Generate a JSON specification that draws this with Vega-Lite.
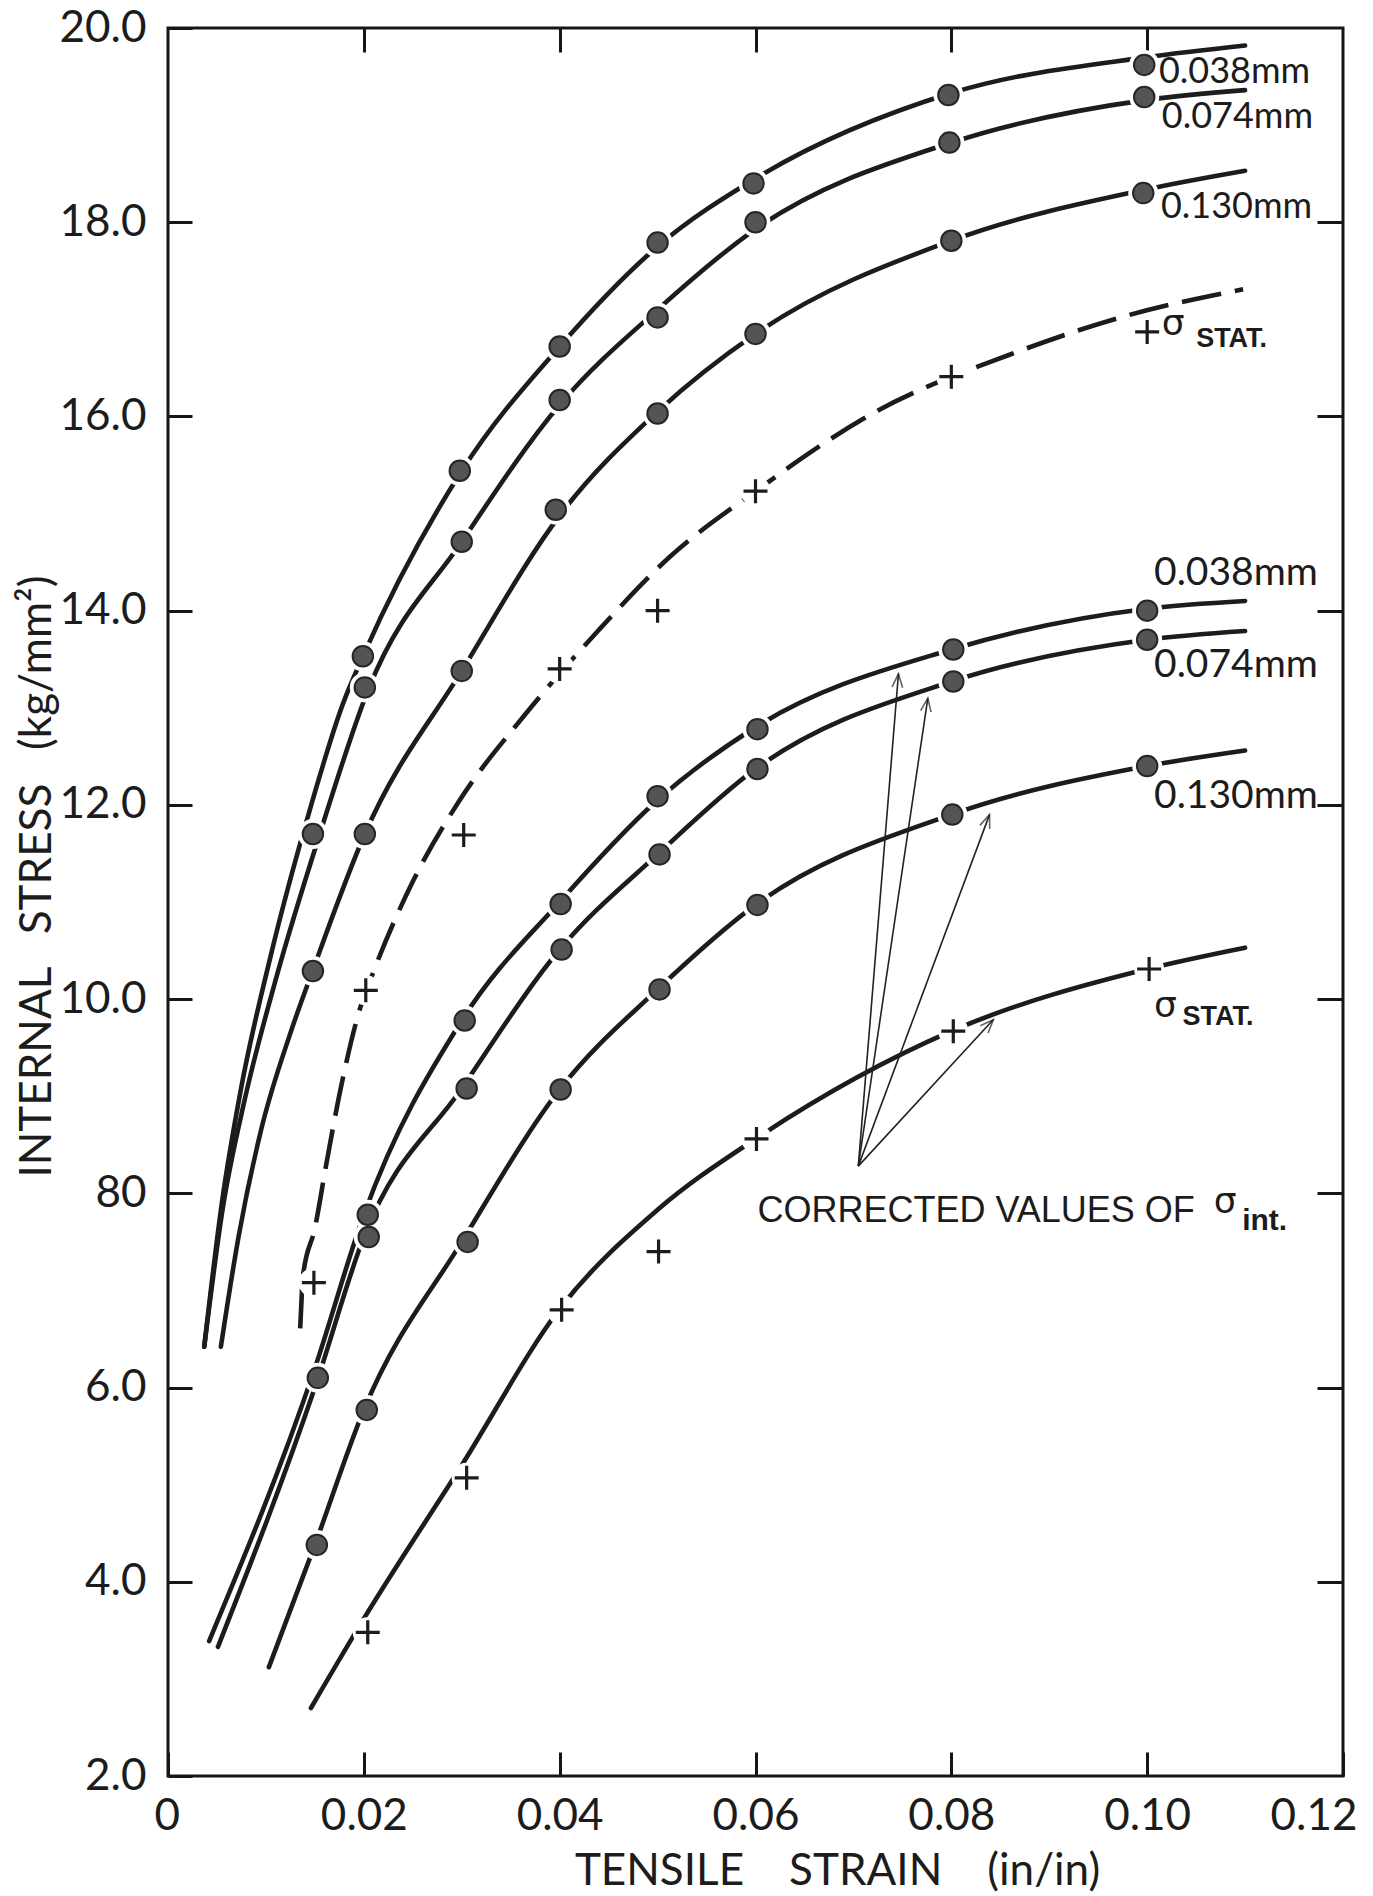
{
  "$schema": "https://vega.github.io/schema/vega-lite/v6.json",
  "width": 1175,
  "height": 1748,
  "autosize": {"type": "none"},
  "padding": {"left": 168, "top": 28, "right": 30, "bottom": 120},
  "background": "white",
  "config": {"view": {"stroke": "#161616", "strokeWidth": 3}, "font": "Lato"},
  "datasets": {
    "curves": [
      {"s": "u038", "x": 0.0037, "y": 6.42}, {"s": "u038", "x": 0.0055, "y": 7.9}, {"s": "u038", "x": 0.0075, "y": 9.1}, {"s": "u038", "x": 0.0105, "y": 10.45}, {"s": "u038", "x": 0.0142, "y": 11.85}, {"s": "u038", "x": 0.0179, "y": 13.05}, {"s": "u038", "x": 0.02, "y": 13.55}, {"s": "u038", "x": 0.03, "y": 15.44}, {"s": "u038", "x": 0.04, "y": 16.72}, {"s": "u038", "x": 0.05, "y": 17.75}, {"s": "u038", "x": 0.06, "y": 18.45}, {"s": "u038", "x": 0.08, "y": 19.33}, {"s": "u038", "x": 0.1, "y": 19.7}, {"s": "u038", "x": 0.11, "y": 19.82},
      {"s": "u074", "x": 0.0037, "y": 6.42}, {"s": "u074", "x": 0.0056, "y": 7.85}, {"s": "u074", "x": 0.0078, "y": 8.95}, {"s": "u074", "x": 0.011, "y": 10.2}, {"s": "u074", "x": 0.0155, "y": 11.7}, {"s": "u074", "x": 0.0205, "y": 13.2}, {"s": "u074", "x": 0.03, "y": 14.71}, {"s": "u074", "x": 0.04, "y": 16.12}, {"s": "u074", "x": 0.05, "y": 17.1}, {"s": "u074", "x": 0.06, "y": 17.93}, {"s": "u074", "x": 0.08, "y": 18.82}, {"s": "u074", "x": 0.1, "y": 19.26}, {"s": "u074", "x": 0.11, "y": 19.36},
      {"s": "u130", "x": 0.0054, "y": 6.42}, {"s": "u130", "x": 0.0072, "y": 7.55}, {"s": "u130", "x": 0.0095, "y": 8.65}, {"s": "u130", "x": 0.0125, "y": 9.65}, {"s": "u130", "x": 0.0148, "y": 10.3}, {"s": "u130", "x": 0.0201, "y": 11.7}, {"s": "u130", "x": 0.03, "y": 13.38}, {"s": "u130", "x": 0.04, "y": 14.98}, {"s": "u130", "x": 0.05, "y": 16.05}, {"s": "u130", "x": 0.06, "y": 16.85}, {"s": "u130", "x": 0.08, "y": 17.81}, {"s": "u130", "x": 0.1, "y": 18.34}, {"s": "u130", "x": 0.11, "y": 18.53},
      {"s": "usig", "x": 0.0135, "y": 6.61}, {"s": "usig", "x": 0.0138, "y": 7.16}, {"s": "usig", "x": 0.015, "y": 7.64}, {"s": "usig", "x": 0.0162, "y": 8.32}, {"s": "usig", "x": 0.0177, "y": 9.11}, {"s": "usig", "x": 0.0196, "y": 9.9}, {"s": "usig", "x": 0.0209, "y": 10.26}, {"s": "usig", "x": 0.025, "y": 11.21}, {"s": "usig", "x": 0.0298, "y": 12.05}, {"s": "usig", "x": 0.0363, "y": 12.91}, {"s": "usig", "x": 0.0439, "y": 13.79}, {"s": "usig", "x": 0.0512, "y": 14.55}, {"s": "usig", "x": 0.06, "y": 15.23}, {"s": "usig", "x": 0.0723, "y": 16.05}, {"s": "usig", "x": 0.0858, "y": 16.63}, {"s": "usig", "x": 0.098, "y": 17.04}, {"s": "usig", "x": 0.1098, "y": 17.31},
      {"s": "l038", "x": 0.0042, "y": 3.39}, {"s": "l038", "x": 0.015, "y": 6.2}, {"s": "l038", "x": 0.02, "y": 7.78}, {"s": "l038", "x": 0.03, "y": 9.78}, {"s": "l038", "x": 0.04, "y": 11.0}, {"s": "l038", "x": 0.05, "y": 12.05}, {"s": "l038", "x": 0.06, "y": 12.8}, {"s": "l038", "x": 0.08, "y": 13.6}, {"s": "l038", "x": 0.1, "y": 14.02}, {"s": "l038", "x": 0.11, "y": 14.1},
      {"s": "l074", "x": 0.0051, "y": 3.33}, {"s": "l074", "x": 0.015, "y": 6.0}, {"s": "l074", "x": 0.02, "y": 7.55}, {"s": "l074", "x": 0.03, "y": 9.08}, {"s": "l074", "x": 0.04, "y": 10.51}, {"s": "l074", "x": 0.05, "y": 11.49}, {"s": "l074", "x": 0.06, "y": 12.37}, {"s": "l074", "x": 0.08, "y": 13.27}, {"s": "l074", "x": 0.1, "y": 13.7}, {"s": "l074", "x": 0.11, "y": 13.79},
      {"s": "l130", "x": 0.0103, "y": 3.12}, {"s": "l130", "x": 0.015, "y": 4.38}, {"s": "l130", "x": 0.02, "y": 5.77}, {"s": "l130", "x": 0.03, "y": 7.5}, {"s": "l130", "x": 0.04, "y": 9.07}, {"s": "l130", "x": 0.05, "y": 10.1}, {"s": "l130", "x": 0.06, "y": 10.97}, {"s": "l130", "x": 0.08, "y": 11.9}, {"s": "l130", "x": 0.1, "y": 12.4}, {"s": "l130", "x": 0.11, "y": 12.56},
      {"s": "lsig", "x": 0.0146, "y": 2.7}, {"s": "lsig", "x": 0.02, "y": 3.62}, {"s": "lsig", "x": 0.03, "y": 5.2}, {"s": "lsig", "x": 0.04, "y": 6.81}, {"s": "lsig", "x": 0.05, "y": 7.83}, {"s": "lsig", "x": 0.06, "y": 8.56}, {"s": "lsig", "x": 0.08, "y": 9.67}, {"s": "lsig", "x": 0.1, "y": 10.31}, {"s": "lsig", "x": 0.11, "y": 10.53}
    ],
    "points": [
      {"s": "u038", "k": "c", "x": 0.0148, "y": 11.7}, {"s": "u038", "k": "c", "x": 0.0199, "y": 13.53}, {"s": "u038", "k": "c", "x": 0.0298, "y": 15.44}, {"s": "u038", "k": "c", "x": 0.04, "y": 16.72}, {"s": "u038", "k": "c", "x": 0.05, "y": 17.79}, {"s": "u038", "k": "c", "x": 0.0598, "y": 18.4}, {"s": "u038", "k": "c", "x": 0.0797, "y": 19.31}, {"s": "u038", "k": "c", "x": 0.0997, "y": 19.62},
      {"s": "u074", "k": "c", "x": 0.0201, "y": 13.21}, {"s": "u074", "k": "c", "x": 0.03, "y": 14.71}, {"s": "u074", "k": "c", "x": 0.04, "y": 16.17}, {"s": "u074", "k": "c", "x": 0.05, "y": 17.02}, {"s": "u074", "k": "c", "x": 0.06, "y": 18.0}, {"s": "u074", "k": "c", "x": 0.0798, "y": 18.82}, {"s": "u074", "k": "c", "x": 0.0997, "y": 19.29},
      {"s": "u130", "k": "c", "x": 0.0148, "y": 10.29}, {"s": "u130", "k": "c", "x": 0.0201, "y": 11.7}, {"s": "u130", "k": "c", "x": 0.03, "y": 13.38}, {"s": "u130", "k": "c", "x": 0.0396, "y": 15.04}, {"s": "u130", "k": "c", "x": 0.05, "y": 16.03}, {"s": "u130", "k": "c", "x": 0.06, "y": 16.85}, {"s": "u130", "k": "c", "x": 0.08, "y": 17.81}, {"s": "u130", "k": "c", "x": 0.0996, "y": 18.3},
      {"s": "usig", "k": "p", "x": 0.0149, "y": 7.08}, {"s": "usig", "k": "p", "x": 0.0202, "y": 10.09}, {"s": "usig", "k": "p", "x": 0.0302, "y": 11.69}, {"s": "usig", "k": "p", "x": 0.04, "y": 13.4}, {"s": "usig", "k": "p", "x": 0.05, "y": 14.0}, {"s": "usig", "k": "p", "x": 0.06, "y": 15.23}, {"s": "usig", "k": "p", "x": 0.08, "y": 16.41}, {"s": "usig", "k": "p", "x": 0.1, "y": 16.87},
      {"s": "l038", "k": "c", "x": 0.0153, "y": 6.1}, {"s": "l038", "k": "c", "x": 0.0204, "y": 7.78}, {"s": "l038", "k": "c", "x": 0.0303, "y": 9.78}, {"s": "l038", "k": "c", "x": 0.0401, "y": 10.98}, {"s": "l038", "k": "c", "x": 0.05, "y": 12.09}, {"s": "l038", "k": "c", "x": 0.0602, "y": 12.78}, {"s": "l038", "k": "c", "x": 0.0802, "y": 13.6}, {"s": "l038", "k": "c", "x": 0.1, "y": 14.0},
      {"s": "l074", "k": "c", "x": 0.0205, "y": 7.55}, {"s": "l074", "k": "c", "x": 0.0305, "y": 9.08}, {"s": "l074", "k": "c", "x": 0.0402, "y": 10.51}, {"s": "l074", "k": "c", "x": 0.0502, "y": 11.49}, {"s": "l074", "k": "c", "x": 0.0602, "y": 12.37}, {"s": "l074", "k": "c", "x": 0.0802, "y": 13.27}, {"s": "l074", "k": "c", "x": 0.1, "y": 13.7},
      {"s": "l130", "k": "c", "x": 0.0152, "y": 4.38}, {"s": "l130", "k": "c", "x": 0.0203, "y": 5.77}, {"s": "l130", "k": "c", "x": 0.0306, "y": 7.5}, {"s": "l130", "k": "c", "x": 0.0401, "y": 9.07}, {"s": "l130", "k": "c", "x": 0.0502, "y": 10.1}, {"s": "l130", "k": "c", "x": 0.0602, "y": 10.97}, {"s": "l130", "k": "c", "x": 0.0801, "y": 11.9}, {"s": "l130", "k": "c", "x": 0.1, "y": 12.4},
      {"s": "lsig", "k": "p", "x": 0.0204, "y": 3.48}, {"s": "lsig", "k": "p", "x": 0.0305, "y": 5.07}, {"s": "lsig", "k": "p", "x": 0.0402, "y": 6.8}, {"s": "lsig", "k": "p", "x": 0.0501, "y": 7.4}, {"s": "lsig", "k": "p", "x": 0.0601, "y": 8.56}, {"s": "lsig", "k": "p", "x": 0.0802, "y": 9.67}, {"s": "lsig", "k": "p", "x": 0.1002, "y": 10.31}
    ],
    "arrows": [
      {"id": 1, "x": 0.0705, "y": 8.28, "x2": 0.0746, "y2": 13.35},
      {"id": 2, "x": 0.0705, "y": 8.28, "x2": 0.0776, "y2": 13.1},
      {"id": 3, "x": 0.0705, "y": 8.28, "x2": 0.0839, "y2": 11.9},
      {"id": 4, "x": 0.0705, "y": 8.28, "x2": 0.0843, "y2": 9.79}
    ],
    "labels": [
      {"g": "up", "t": "0.038mm", "x": 0.1012, "y": 19.434},
      {"g": "up", "t": "0.074mm", "x": 0.1015, "y": 18.97},
      {"g": "up", "t": "0.130mm", "x": 0.1014, "y": 18.043},
      {"g": "lo", "t": "0.038mm", "x": 0.1007, "y": 14.264},
      {"g": "lo", "t": "0.074mm", "x": 0.1007, "y": 13.316},
      {"g": "lo", "t": "0.130mm", "x": 0.1007, "y": 11.967},
      {"g": "sig", "t": "σ", "x": 0.1015, "y": 16.84},
      {"g": "sig", "t": "σ", "x": 0.1007, "y": 9.815},
      {"g": "sig", "t": "σ", "x": 0.1068, "y": 7.8},
      {"g": "stat", "t": "STAT.", "x": 0.105, "y": 16.71},
      {"g": "stat", "t": "STAT.", "x": 0.1036, "y": 9.732},
      {"g": "corr", "t": "CORRECTED VALUES OF", "x": 0.0602, "y": 7.703},
      {"g": "int", "t": "int.", "x": 0.1097, "y": 7.625}
    ]
  },
  "resolve": {"axis": {"x": "independent", "y": "independent"}},
  "layer": [
    {
      "data": {"name": "curves"},
      "transform": [{"filter": "datum.s != 'usig'"}],
      "mark": {"type": "line", "interpolate": "monotone", "strokeWidth": 4.6, "color": "#1c1c1c", "strokeCap": "round"},
      "encoding": {
        "x": {"field": "x", "type": "quantitative", "scale": {"domain": [0, 0.12], "nice": false, "zero": false},
          "axis": {"orient": "bottom", "values": [0, 0.02, 0.04, 0.06, 0.08, 0.1, 0.12], "labelExpr": "datum.value == 0 ? '0' : format(datum.value, '.2f')", "grid": false, "domain": false, "tickSize": -24, "tickWidth": 3, "tickColor": "#161616", "labelPadding": 42, "labelFont": "Lato", "labelFontSize": 44, "labelColor": "#1c1c1c", "labelFlush": true, "labelFlushOffset": 14, "labelOverlap": false, "labelBound": false,
            "title": "TENSILE\u00a0\u00a0\u00a0\u00a0STRAIN\u00a0\u00a0\u00a0\u00a0(in/in)", "titleFont": "Lato", "titleFontSize": 44, "titleFontWeight": "normal", "titleColor": "#1c1c1c", "titleX": 669, "titleY": 108, "titleAlign": "center", "titleBaseline": "alphabetic"}},
        "y": {"field": "y", "type": "quantitative", "scale": {"domain": [2, 20], "nice": false, "zero": false},
          "axis": {"orient": "left", "values": [2, 4, 6, 8, 10, 12, 14, 16, 18, 20], "labelExpr": "datum.value == 8 ? '80' : format(datum.value, '.1f')", "grid": false, "domain": false, "tickSize": -24, "tickWidth": 3, "tickColor": "#161616", "labelPadding": 46, "labelFont": "Lato", "labelFontSize": 44, "labelColor": "#1c1c1c", "labelFlush": false, "labelOverlap": false, "labelBound": false, "labelBaseline": "middle",
            "title": "INTERNAL\u00a0\u00a0\u00a0STRESS\u00a0\u00a0\u00a0(kg/mm²)", "titleFont": "Lato", "titleFontSize": 44, "titleFontWeight": "normal", "titleColor": "#1c1c1c", "titleAngle": 270, "titleX": -118, "titleY": 848, "titleAlign": "center", "titleBaseline": "alphabetic"}},
        "detail": {"field": "s"}
      }
    },
    {
      "data": {"name": "curves"},
      "transform": [{"filter": "datum.s == 'usig'"}],
      "mark": {"type": "line", "interpolate": "monotone", "strokeWidth": 4.6, "color": "#1c1c1c", "strokeDash": [40, 14]},
      "encoding": {
        "x": {"field": "x", "type": "quantitative", "axis": {"orient": "top", "values": [0.02, 0.04, 0.06, 0.08, 0.1], "labels": false, "title": null, "grid": false, "domain": false, "tickSize": -24, "tickWidth": 3, "tickColor": "#161616"}},
        "y": {"field": "y", "type": "quantitative", "axis": {"orient": "right", "values": [4, 6, 8, 10, 12, 14, 16, 18], "labels": false, "title": null, "grid": false, "domain": false, "tickSize": -26, "tickWidth": 3, "tickColor": "#161616"}}
      }
    },
    {
      "data": {"name": "arrows"},
      "mark": {"type": "rule", "strokeWidth": 1.6, "color": "#222"},
      "encoding": {
        "x": {"field": "x", "type": "quantitative", "axis": null},
        "y": {"field": "y", "type": "quantitative", "axis": null},
        "x2": {"field": "x2"},
        "y2": {"field": "y2"}
      }
    },
    {
      "data": {"name": "arrows"},
      "transform": [{"filter": "datum.id == 1"}],
      "mark": {"type": "point", "shape": "M -0.35 0.9 L 0 0 L 0.35 0.9", "filled": false, "size": 900, "strokeWidth": 1.6, "color": "#222", "angle": 4.7},
      "encoding": {"x": {"field": "x2", "type": "quantitative", "axis": null}, "y": {"field": "y2", "type": "quantitative", "axis": null}}
    },
    {
      "data": {"name": "arrows"},
      "transform": [{"filter": "datum.id == 2"}],
      "mark": {"type": "point", "shape": "M -0.35 0.9 L 0 0 L 0.35 0.9", "filled": false, "size": 900, "strokeWidth": 1.6, "color": "#222", "angle": 8.4},
      "encoding": {"x": {"field": "x2", "type": "quantitative", "axis": null}, "y": {"field": "y2", "type": "quantitative", "axis": null}}
    },
    {
      "data": {"name": "arrows"},
      "transform": [{"filter": "datum.id == 3"}],
      "mark": {"type": "point", "shape": "M -0.35 0.9 L 0 0 L 0.35 0.9", "filled": false, "size": 900, "strokeWidth": 1.6, "color": "#222", "angle": 20.5},
      "encoding": {"x": {"field": "x2", "type": "quantitative", "axis": null}, "y": {"field": "y2", "type": "quantitative", "axis": null}}
    },
    {
      "data": {"name": "arrows"},
      "transform": [{"filter": "datum.id == 4"}],
      "mark": {"type": "point", "shape": "M -0.35 0.9 L 0 0 L 0.35 0.9", "filled": false, "size": 900, "strokeWidth": 1.6, "color": "#222", "angle": 42.8},
      "encoding": {"x": {"field": "x2", "type": "quantitative", "axis": null}, "y": {"field": "y2", "type": "quantitative", "axis": null}}
    },
    {
      "data": {"name": "points"},
      "mark": {"type": "point", "shape": "circle", "filled": true, "color": "white", "opacity": 1, "size": 900},
      "encoding": {"x": {"field": "x", "type": "quantitative", "axis": null}, "y": {"field": "y", "type": "quantitative", "axis": null}}
    },
    {
      "data": {"name": "points"},
      "transform": [{"filter": "datum.k == 'c'"}],
      "mark": {"type": "point", "shape": "circle", "filled": true, "fill": "#545454", "stroke": "#262626", "strokeWidth": 2, "opacity": 1, "size": 420},
      "encoding": {"x": {"field": "x", "type": "quantitative", "axis": null}, "y": {"field": "y", "type": "quantitative", "axis": null}}
    },
    {
      "data": {"name": "points"},
      "transform": [{"filter": "datum.k == 'p'"}],
      "mark": {"type": "point", "shape": "M -1 0 L 1 0 M 0 -1 L 0 1", "filled": false, "stroke": "#1c1c1c", "strokeWidth": 3.2, "opacity": 1, "size": 576},
      "encoding": {"x": {"field": "x", "type": "quantitative", "axis": null}, "y": {"field": "y", "type": "quantitative", "axis": null}}
    },
    {
      "data": {"name": "labels"},
      "transform": [{"filter": "datum.g == 'up'"}],
      "mark": {"type": "text", "align": "left", "baseline": "alphabetic", "font": "Lato", "fontSize": 36, "color": "#1c1c1c"},
      "encoding": {"x": {"field": "x", "type": "quantitative", "axis": null}, "y": {"field": "y", "type": "quantitative", "axis": null}, "text": {"field": "t"}}
    },
    {
      "data": {"name": "labels"},
      "transform": [{"filter": "datum.g == 'lo'"}],
      "mark": {"type": "text", "align": "left", "baseline": "alphabetic", "font": "Lato", "fontSize": 39, "color": "#1c1c1c"},
      "encoding": {"x": {"field": "x", "type": "quantitative", "axis": null}, "y": {"field": "y", "type": "quantitative", "axis": null}, "text": {"field": "t"}}
    },
    {
      "data": {"name": "labels"},
      "transform": [{"filter": "datum.g == 'sig'"}],
      "mark": {"type": "text", "align": "left", "baseline": "alphabetic", "font": "DejaVu Sans", "fontSize": 36, "color": "#1c1c1c"},
      "encoding": {"x": {"field": "x", "type": "quantitative", "axis": null}, "y": {"field": "y", "type": "quantitative", "axis": null}, "text": {"field": "t"}}
    },
    {
      "data": {"name": "labels"},
      "transform": [{"filter": "datum.g == 'stat'"}],
      "mark": {"type": "text", "align": "left", "baseline": "alphabetic", "font": "Liberation Sans", "fontWeight": "bold", "fontSize": 27, "color": "#1c1c1c"},
      "encoding": {"x": {"field": "x", "type": "quantitative", "axis": null}, "y": {"field": "y", "type": "quantitative", "axis": null}, "text": {"field": "t"}}
    },
    {
      "data": {"name": "labels"},
      "transform": [{"filter": "datum.g == 'corr'"}],
      "mark": {"type": "text", "align": "left", "baseline": "alphabetic", "font": "Liberation Sans", "fontSize": 36, "color": "#1c1c1c"},
      "encoding": {"x": {"field": "x", "type": "quantitative", "axis": null}, "y": {"field": "y", "type": "quantitative", "axis": null}, "text": {"field": "t"}}
    },
    {
      "data": {"name": "labels"},
      "transform": [{"filter": "datum.g == 'int'"}],
      "mark": {"type": "text", "align": "left", "baseline": "alphabetic", "font": "Liberation Sans", "fontWeight": "bold", "fontSize": 30, "color": "#1c1c1c"},
      "encoding": {"x": {"field": "x", "type": "quantitative", "axis": null}, "y": {"field": "y", "type": "quantitative", "axis": null}, "text": {"field": "t"}}
    }
  ]
}
